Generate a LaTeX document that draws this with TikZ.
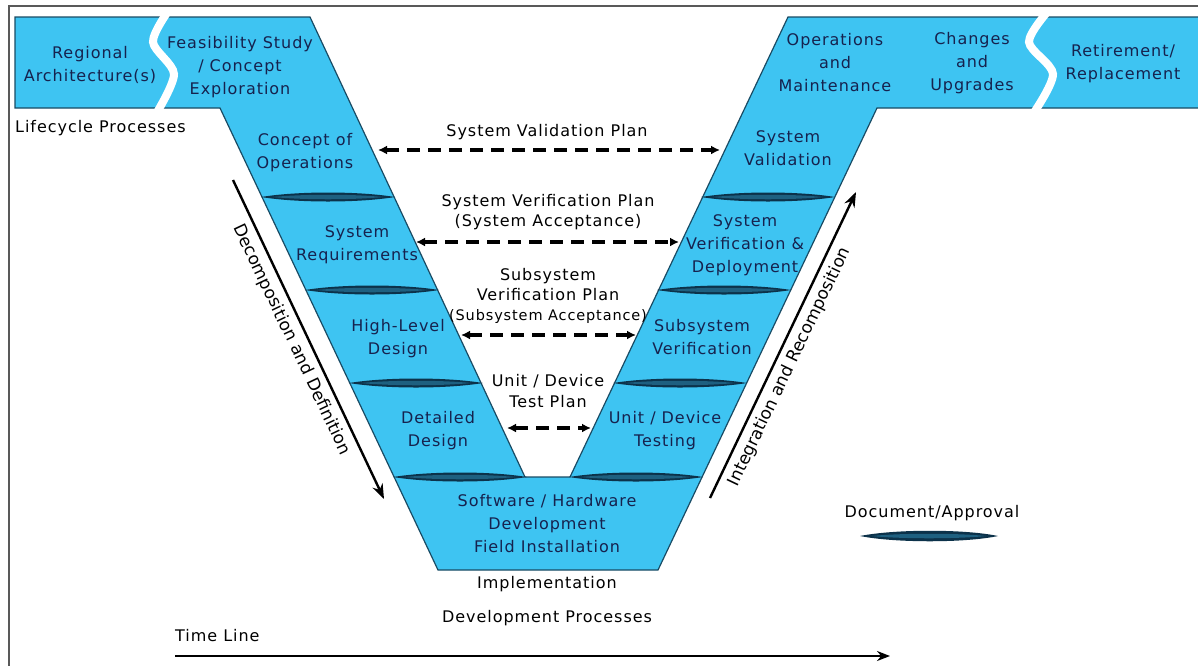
\documentclass[tikz,border=0pt]{standalone}
\usepackage{fontspec}
\setmainfont{DejaVu Sans}[LetterSpace=6]
\newfontfamily\rotfont{DejaVu Sans}
\usetikzlibrary{arrows.meta}
\definecolor{vfill}{RGB}{62,196,242}
\definecolor{vedge}{RGB}{25,75,100}
\definecolor{docc}{RGB}{30,96,128}
\definecolor{docdark}{RGB}{12,50,74}
\definecolor{navy}{RGB}{22,34,78}
\begin{document}
\begin{tikzpicture}[x=1pt,y=-1pt,
  lab/.style={font=\fontsize{16}{23}\selectfont, text=navy, align=center, inner sep=0pt},
  outlab/.style={font=\fontsize{16}{21}\selectfont, text=black, align=center, inner sep=0pt},
  rotlab/.style={font=\rotfont\fontsize{17}{21}\selectfont, text=black, inner sep=0pt},
  dasharrow/.style={{Latex[length=9pt,width=9pt]}-{Latex[length=9pt,width=9pt]}, line width=3.6pt, dash pattern=on 13pt off 8pt},
  bigarrow/.style={-{Stealth[length=15pt,width=11pt]}, line width=2.4pt},
  wave/.style={white, line width=8pt}
]
\useasboundingbox (0,0) rectangle (1198,665);
\draw[line width=2pt, black!65] (9,700) -- (9,6) -- (1210,6);

% main V shape
\draw[fill=vfill, draw=vedge, line width=1.2pt]
  (15,17) -- (310,17) -- (525,477) -- (570,477) -- (788,17) -- (1205,17)
  -- (1205,108) -- (877,108) -- (658,570) -- (438,570) -- (220,108) -- (15,108) -- cycle;

% wavy separators
\draw[wave] plot[smooth] coordinates {(169,10) (153,42) (174,74) (156,114)};
\draw[wave] plot[smooth] coordinates {(1049,10) (1029,42) (1053,74) (1033,114)};

% document / approval lenses
\foreach \cx/\cy in {328/197, 372/290, 416/383, 460/477, 768/197, 724/290, 680/383, 636/477}{
  \fill[docdark] ({\cx-67},\cy) .. controls ({\cx-30},{\cy-6}) and ({\cx+30},{\cy-6}) .. ({\cx+67},\cy)
        .. controls ({\cx+30},{\cy+6}) and ({\cx-30},{\cy+6}) .. ({\cx-67},\cy) -- cycle;
  \fill[docc] ({\cx-55},\cy) .. controls ({\cx-25},{\cy-3}) and ({\cx+25},{\cy-3}) .. ({\cx+55},\cy)
        .. controls ({\cx+25},{\cy+3}) and ({\cx-25},{\cy+3}) .. ({\cx-55},\cy) -- cycle;
}

% labels in the band
\node[lab] (regional) at (90,64.5) {Regional\\Architecture(s)};
\node[lab] (feas) at (240,67.5) {Feasibility Study\\/ Concept\\Exploration};
\node[lab] (conops) at (305,152.5) {Concept of\\Operations};
\node[lab] (sysreq) at (357,245) {System\\Requirements};
\node[lab] (hld) at (398,338.5) {High-Level\\Design};
\node[lab] (dd) at (438,430.5) {Detailed\\Design};
\node[lab] (sw) at (547,524) {Software / Hardware\\Development\\Field Installation};
\node[lab] (unit) at (665,430.5) {Unit / Device\\Testing};
\node[lab] (subsys) at (702,337.5) {Subsystem\\Verification};
\node[lab] (sysver) at (745,245.5) {System\\Verification \&\\Deployment};
\node[lab] (sysval) at (788,148) {System\\Validation};
\node[lab] (ops) at (835,63) {Operations\\and\\Maintenance};
\node[lab] (chg) at (972,63) {Changes\\and\\Upgrades};
\node[lab] (ret) at (1123,63.5) {Retirement/\\Replacement};

% outside labels
\node[outlab, anchor=west] (life) at (15,128) {Lifecycle Processes};
\node[outlab] (impl) at (547,584) {Implementation};
\node[outlab] (devp) at (547,618) {Development Processes};
\node[outlab, anchor=west] (tl) at (175,636) {Time Line};
\node[outlab] (docapp) at (932,513) {Document/Approval};
\fill[docdark] (860,536) .. controls (895,529) and (965,529) .. (998,536)
      .. controls (965,543) and (895,543) .. (860,536) -- cycle;
\fill[docc] (872,536) .. controls (900,533) and (958,533) .. (986,536)
      .. controls (958,539) and (900,539) .. (872,536) -- cycle;

% dashed plan arrows
\coordinate (p1a) at (378,150); \coordinate (p1b) at (720,150);
\coordinate (p2a) at (416,242); \coordinate (p2b) at (679,242);
\coordinate (p3a) at (461,335); \coordinate (p3b) at (636,335);
\coordinate (p4a) at (507,428); \coordinate (p4b) at (591,428);
\draw[dasharrow] (p1a) -- (p1b);
\draw[dasharrow] (p2a) -- (p2b);
\draw[dasharrow] (p3a) -- (p3b);
\draw[dasharrow] (p4a) -- (p4b);
\node[outlab] (svp) at (547,132) {System Validation Plan};
\node[outlab, font=\fontsize{16}{20}\selectfont] (sverp) at (548,212) {System Verification Plan\\(System Acceptance)};
\node[outlab, font=\fontsize{16}{20}\selectfont] (subvp) at (548,296) {Subsystem\\Verification Plan\\{\fontsize{14.5}{20}\selectfont(Subsystem Acceptance)}};
\node[outlab, font=\fontsize{16}{21}\selectfont] (utp) at (548,391.5) {Unit / Device\\Test Plan};

% decomposition / integration arrows
\coordinate (dA) at (233,180); \coordinate (dB) at (384,499);
\coordinate (iA) at (710,498); \coordinate (iB) at (856,192);
\draw[bigarrow] (dA) -- node[pos=0.48, sloped, below=6pt, rotlab] (dec) {Decomposition and Definition} (dB);
\draw[bigarrow] (iA) -- node[pos=0.45, sloped, below=6pt, rotlab] (integ) {Integration and Recomposition} (iB);

% time line
\coordinate (tA) at (175,656); \coordinate (tB) at (890,656);
\draw[-{Stealth[length=13pt,width=10pt]}, line width=2.2pt] (tA) -- (tB);
\end{tikzpicture}
\end{document}
